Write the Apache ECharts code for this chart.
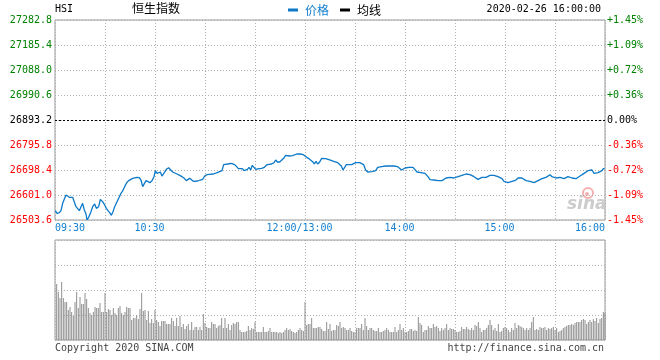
<!DOCTYPE html>
<html>
<head>
<meta charset="utf-8">
<script src="https://cdn.jsdelivr.net/npm/echarts@6/dist/echarts.min.js"></script>
<style>html,body{margin:0;padding:0;background:#fff}#c{width:660px;height:360px}</style>
</head>
<body>
<div id="c"></div>
<script>
// ---- data ----
const BASE = 26893.2;          // previous close (0.00% line)
const STEP = 97.4;             // price per gridline
const tickMins = [0, 60, 150, 210, 270, 330];
const tickLabels = ['09:30', '10:30', '12:00/13:00', '14:00', '15:00', '16:00'];

// trading minutes since 09:30 (lunch break removed)
const priceMins = [
0.2,1.2,2.6,3.6,4.6,5.6,6.6,7.4,8.6,9.8,10.6,11.6,12.6,13.6,14.6,15.6,16.6,17.6,18.6,19.2,
20.2,21.6,22.6,23.8,24.8,26.2,27.2,28.6,29.8,30.8,31.8,32.8,33.8,34.8,35.8,37.2,38.2,39.6,40.6,41.8,
43.0,44.2,45.4,46.6,47.8,49.2,50.6,51.6,52.6,53.6,54.6,55.8,57.0,58.2,59.4,60.2,61.2,62.2,63.2,64.2,
65.6,66.8,68.2,69.4,70.6,71.8,73.2,74.8,76.2,77.6,78.8,79.8,80.8,81.8,83.0,84.2,85.6,87.2,88.6,89.8,
91.2,92.6,93.8,95.0,96.2,97.4,98.6,100.2,101.2,102.2,103.6,104.6,105.6,106.6,107.8,
108.0,109.0,110.0,111.0,112.4,113.4,114.4,115.4,116.4,117.4,118.4,119.4,120.4,121.4,122.4,124.0,125.6,127.0,128.4,130.0,
131.4,132.4,133.4,134.8,136.0,137.2,138.4,139.6,140.6,141.6,142.6,143.6,145.0,146.0,147.0,148.0,149.0,150.0,151.0,152.4,
153.6,154.6,155.6,156.6,157.6,158.8,160.0,161.2,162.4,163.6,164.8,166.0,167.2,168.4,169.6,170.8,171.8,172.8,173.8,174.8,
176.4,178.0,179.2,180.4,181.6,182.8,184.0,185.2,186.4,187.6,188.8,190.0,191.2,192.4,193.6,194.8,196.0,197.2,198.4,199.6,
200.8,202.0,203.2,204.4,205.6,206.8,208.0,209.2,210.0,211.2,212.4,213.6,214.8,216.0,217.2,218.4,219.6,220.8,222.0,
222.6,223.8,225.0,226.2,227.4,228.6,229.8,231.0,232.2,233.4,234.6,235.8,237.0,238.2,239.4,240.6,241.8,243.0,244.2,245.4,
246.6,247.8,249.0,250.2,251.4,252.6,253.8,255.0,256.2,257.4,258.6,259.8,261.0,262.2,263.4,264.6,265.8,267.0,268.2,269.4,
270.6,271.8,273.0,274.2,275.4,276.6,277.8,279.0,280.2,281.4,282.6,283.8,285.0,286.2,287.4,288.6,289.8,291.0,292.2,293.4,
294.6,295.8,297.0,298.2,299.4,300.6,301.8,303.0,304.2,305.4,306.6,307.8,309.0,310.2,311.4,312.6,313.8,315.0,316.2,317.4,
318.6,319.8,321.0,322.2,323.4,324.6,325.8,327.0,328.2,329.0,329.8
];
const priceVals = [
26540.0,26529.6,26532.2,26540.0,26568.5,26575.0,26601.0,26607.5,26591.9,26588.0,26591.9,26585.4,26555.5,26555.5,26540.0,26555.5,26568.5,26542.6,26527.0,26503.6,
26514.0,26536.1,26555.5,26565.9,26549.0,26555.5,26584.1,26575.0,26562.0,26549.0,26540.0,26532.2,26521.8,26536.1,26555.5,26575.0,26588.0,26607.5,26616.6,26633.5,
26649.0,26656.9,26659.4,26665.9,26669.8,26669.8,26668.5,26659.4,26633.5,26627.0,26656.9,26654.3,26649.0,26656.9,26672.4,26695.8,26685.4,26678.9,26690.6,26675.0,
26688.0,26701.0,26707.5,26698.4,26690.6,26688.0,26682.8,26677.6,26672.4,26665.9,26656.9,26651.6,26665.9,26667.2,26654.3,26651.6,26655.5,26659.4,26662.0,26675.0,
26680.2,26681.5,26685.4,26682.8,26684.1,26688.0,26691.9,26695.8,26719.2,26717.9,26721.8,26720.5,26724.4,26727.0,26719.2,
26715.3,26711.4,26703.6,26703.6,26703.6,26695.8,26694.5,26701.0,26708.8,26698.4,26716.6,26711.4,26701.0,26703.6,26703.6,26704.9,26708.8,26717.9,26720.5,26721.8,
26727.0,26737.4,26729.6,26729.6,26734.8,26743.9,26755.5,26755.5,26752.9,26750.3,26754.2,26760.7,26760.7,26758.1,26760.7,26758.1,26758.1,26758.1,26747.7,26742.6,
26747.7,26730.9,26721.8,26732.2,26721.8,26729.6,26743.9,26743.9,26742.6,26740.0,26737.4,26732.2,26732.2,26729.6,26727.0,26724.4,26714.0,26698.4,26708.8,26719.2,
26719.2,26719.2,26721.8,26727.0,26729.6,26727.0,26727.0,26719.2,26698.4,26690.6,26685.4,26691.9,26693.2,26695.8,26708.8,26714.0,26711.4,26711.4,26714.0,26711.4,
26714.0,26716.6,26714.0,26714.0,26711.4,26706.2,26698.4,26701.0,26706.2,26708.8,26708.8,26708.8,26708.8,26703.6,26690.6,26693.2,26688.0,26685.4,26685.4,
26682.8,26672.4,26660.7,26659.4,26659.4,26659.4,26656.9,26659.4,26656.9,26662.0,26667.2,26672.4,26669.8,26664.6,26667.2,26667.2,26672.4,26675.0,26677.6,26680.2,
26682.8,26685.4,26680.2,26677.6,26672.4,26667.2,26662.0,26664.6,26669.8,26669.8,26669.8,26669.8,26677.6,26677.6,26677.6,26675.0,26672.4,26667.2,26664.6,26654.3,
26651.6,26649.0,26649.0,26654.3,26656.9,26659.4,26667.2,26669.8,26667.2,26662.0,26656.9,26659.4,26654.3,26649.0,26649.0,26651.6,26656.9,26659.4,26664.6,26662.0,
26669.8,26672.4,26680.2,26672.4,26667.2,26667.2,26667.2,26669.8,26664.6,26664.6,26669.8,26672.4,26667.2,26667.2,26672.4,26664.6,26669.8,26675.0,26680.2,26685.4,
26690.6,26695.8,26693.2,26698.4,26685.4,26688.0,26688.0,26690.6,26695.8,26703.6,26703.6
];

// volume per minute (relative units, panel top = 100), minutes 1..330
const volume = [
56,48,42,58,42,38,38,30,33,28, 24,38,48,32,43,36,36,47,41,32,
27,25,28,33,32,32,37,28,28,47, 28,31,30,25,32,27,25,32,34,27,
25,28,33,32,32,20,22,22,25,21, 31,47,29,30,20,29,17,21,17,30,
20,18,14,19,19,19,16,16,16,22, 19,14,22,14,24,13,16,11,14,16,
10,18,10,13,13,10,13,10,26,17, 13,12,12,18,16,16,12,14,15,22,
12,22,12,16,10,15,17,16,18,18, 10,
8,8,8,9,14,10,12,11,18,8, 8,8,8,13,8,8,9,12,8,8,
8,8,7,8,7,8,10,12,10,11, 9,8,7,8,10,12,10,9,38,15,
16,16,22,12,12,12,13,13,11,9, 9,18,11,16,9,10,10,15,14,18,
12,13,12,10,10,12,9,8,8,12, 12,12,16,10,22,14,10,12,12,10,
9,9,12,8,8,9,10,12,10,8, 8,8,13,8,10,16,10,12,8,8,
9,11,11,9,10,9,23,17,15,8, 10,
10,14,12,12,16,13,14,12,9,12, 10,12,16,10,12,11,11,10,8,8,
9,13,11,11,13,11,10,12,10,15, 14,18,12,8,10,10,12,15,20,15,
10,12,9,16,8,9,12,13,12,10, 8,12,10,17,12,15,14,13,12,10,
12,10,12,18,23,10,11,10,13,12, 12,13,10,12,11,12,13,10,12,8,
9,10,12,13,14,15,15,16,15,17, 18,18,18,20,21,20,16,18,20,18,
21,19,22,17,21,22,28,27
];

// ---- chart ----
const MONO = 'DejaVu Sans Mono';
const BLUE = '#0c79c9';
const LBLUE = '#1580d0';
const GRID = '#b0b0b0';
const colorFor = v => Math.abs(v) < 1e-6 ? '#000000' : (v > 0 ? '#008000' : '#ff0000');

const lineData = priceMins.map((m, i) => [m, +(priceVals[i] - BASE).toFixed(2)]);
const volData = volume.map((v, i) => [i + 1, v]);

const splitDotted = { show: true, lineStyle: { color: GRID, type: [1, 2], width: 1 } };

const chart = echarts.init(document.getElementById('c'), null, { renderer: 'canvas' });
chart.setOption({
  animation: false,
  backgroundColor: '#ffffff',
  legend: {
    left: 283, top: -1, icon: 'rect', itemWidth: 10, itemHeight: 3, itemGap: 11,
    textStyle: { fontSize: 12, fontFamily: 'Noto Sans CJK SC', padding: [0, 0, 0, 2] },
    selectedMode: false,
    data: [
      { name: '价格', textStyle: { color: LBLUE } },
      { name: '均线', textStyle: { color: '#000' } }
    ]
  },
  grid: [
    { left: 55, top: 20, width: 550, height: 200, show: true, borderColor: '#999', borderWidth: 1, containLabel: false },
    { left: 55, top: 240, width: 550, height: 100, show: true, borderColor: '#999', borderWidth: 1, containLabel: false }
  ],
  xAxis: [
    {
      gridIndex: 0, type: 'value', min: 0, max: 330, interval: 30,
      axisLine: { show: false }, axisTick: { show: false },
      splitLine: splitDotted,
      axisLabel: {
        show: true, margin: 3, fontFamily: MONO, fontSize: 10, color: LBLUE,
        showMinLabel: true, showMaxLabel: true,
        alignMinLabel: 'left', alignMaxLabel: 'right',
        formatter: v => {
          const i = tickMins.indexOf(v);
          if (i < 0) return '';
          if (i === 0 || i === tickMins.length - 1) return '{e|' + tickLabels[i] + '}';
          return '{c|' + tickLabels[i] + '}';
        },
        rich: {
          e: { fontFamily: MONO, fontSize: 10, color: LBLUE },
          c: { fontFamily: MONO, fontSize: 10, color: LBLUE, padding: [0, 11, 0, 0] }
        }
      }
    },
    {
      gridIndex: 1, type: 'value', min: 0, max: 330, interval: 30,
      axisLine: { show: false }, axisTick: { show: false }, axisLabel: { show: false },
      splitLine: splitDotted
    }
  ],
  yAxis: [
    {
      gridIndex: 0, type: 'value', position: 'left', min: -4 * STEP, max: 4 * STEP, interval: STEP,
      axisLine: { show: false }, axisTick: { show: false },
      splitLine: splitDotted,
      axisLabel: {
        margin: 3, fontFamily: MONO, fontSize: 10, padding: [0, 0, 6, 0],
        formatter: v => (BASE + v).toFixed(1),
        color: v => colorFor(+v)
      }
    },
    {
      gridIndex: 0, type: 'value', position: 'right', min: -4 * STEP, max: 4 * STEP, interval: STEP,
      axisLine: { show: false }, axisTick: { show: false }, splitLine: { show: false },
      axisLabel: {
        margin: 2, fontFamily: MONO, fontSize: 10, padding: [0, 0, 6, 0],
        formatter: v => (v > 1e-6 ? '+' : '') + (v / BASE * 100).toFixed(2) + '%',
        color: v => colorFor(+v)
      }
    },
    {
      gridIndex: 1, type: 'value', min: 0, max: 100, interval: 25,
      axisLine: { show: false }, axisTick: { show: false }, axisLabel: { show: false },
      splitLine: splitDotted
    }
  ],
  graphic: [
    { type: 'text', left: 55, top: 4, style: { text: 'HSI', font: '10px ' + MONO, fill: '#000' } },
    { type: 'text', left: 132, top: 2, style: { text: '恒生指数', font: '12px "Noto Sans CJK SC"', fill: '#000' } },
    { type: 'text', right: 59, top: 4, style: { text: '2020-02-26 16:00:00', font: '10px ' + MONO, fill: '#000' } },
    { type: 'text', left: 55, top: 343, style: { text: 'Copyright 2020 SINA.COM', font: '10px ' + MONO, fill: '#444' } },
    { type: 'text', right: 56, top: 343, style: { text: 'http://finance.sina.com.cn', font: '10px ' + MONO, fill: '#444' } },
    { type: 'circle', shape: { cx: 588, cy: 193, r: 5 }, style: { fill: 'none', stroke: '#f3b0b0', lineWidth: 2 }, z: 0 },
    { type: 'circle', shape: { cx: 587, cy: 194, r: 2 }, style: { fill: '#f3b0b0' }, z: 0 },
    { type: 'text', left: 567, top: 196, style: { text: 'sina', font: 'italic bold 17px "DejaVu Sans"', fill: '#cccccc' }, z: 0 }
  ],
  series: [
    {
      name: '价格', type: 'line', xAxisIndex: 0, yAxisIndex: 0, data: lineData,
      showSymbol: false, symbol: 'none', color: BLUE,
      lineStyle: { color: BLUE, width: 1.3 }, z: 5,
      markLine: {
        silent: true, symbol: 'none', label: { show: false },
        lineStyle: { color: '#000', type: [2, 2], width: 1 },
        data: [{ yAxis: 0 }]
      }
    },
    {
      name: '均线', type: 'line', xAxisIndex: 0, yAxisIndex: 0, data: [],
      showSymbol: false, color: '#000', lineStyle: { color: '#000', width: 1 }
    },
    {
      name: '成交量', type: 'bar', xAxisIndex: 1, yAxisIndex: 2, data: volData,
      barWidth: 1, itemStyle: { color: '#8f8f8f' }, silent: true
    }
  ]
});
</script>
</body>
</html>
